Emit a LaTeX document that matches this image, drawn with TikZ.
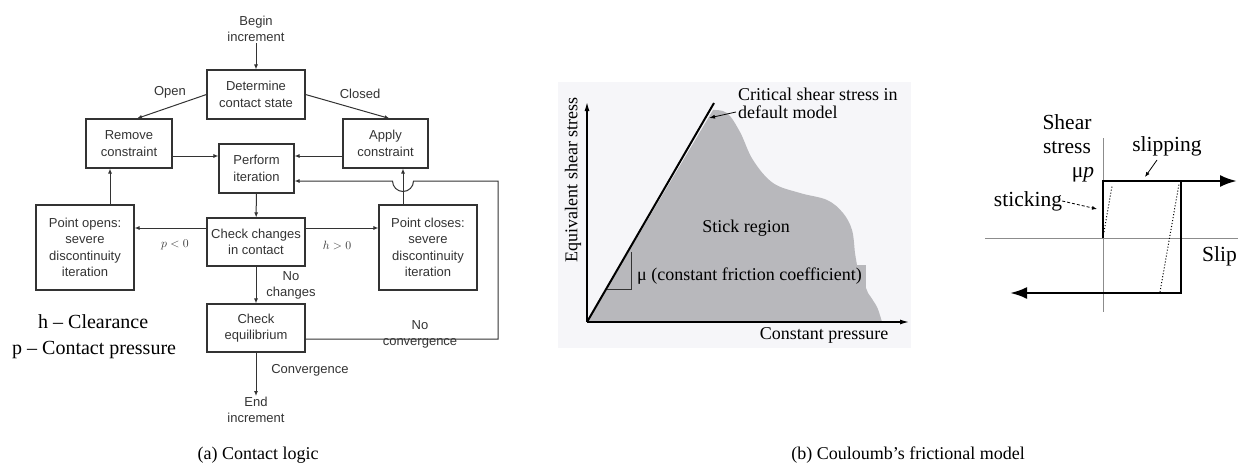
\documentclass[tikz,border=0pt]{standalone}
\usepackage{fontspec}
\setmainfont{Liberation Serif}
\newfontfamily\flowfont{Liberation Sans}
\usetikzlibrary{positioning, arrows.meta, calc}
\usepackage{xcolor}
\definecolor{flowline}{HTML}{333333}
\definecolor{stickgray}{HTML}{B8B8BC}
\definecolor{plotbg}{HTML}{F6F6F9}
\definecolor{axisgray}{HTML}{8C8C8C}

\begin{document}
\begin{tikzpicture}[x=1pt, y=-1pt,
    flowbox/.style={draw=flowline, line width=1.1pt, text=flowline, align=center,
                    inner sep=1pt, font=\flowfont\fontsize{13}{16.5}\selectfont},
    flowtext/.style={text=flowline, align=center, inner sep=1pt,
                     font=\flowfont\fontsize{13}{16}\selectfont},
    flowarr/.style={-{Latex[length=5pt,width=4pt]}, line width=1pt, draw=flowline},
    graphtext/.style={inner sep=0pt, font=\fontsize{18}{18}\selectfont},
    slipttext/.style={inner sep=0pt, align=center, font=\fontsize{21.5}{24}\selectfont}]
    \useasboundingbox (0,0) rectangle (1238,463);

    % (a) contact logic
    \node[flowtext] (begin) at (256,29) {Begin\\increment};
    \node[flowbox, minimum width=98pt, minimum height=49pt] (det) at (256,94.5) {Determine\\contact state};
    \node[flowbox, minimum width=86pt, minimum height=49pt] (remove) at (129,143.5) {Remove\\constraint};
    \node[flowbox, minimum width=85pt, minimum height=49pt] (apply) at (385.5,143.5) {Apply\\constraint};
    \node[flowbox, minimum width=75pt, minimum height=49pt] (perform) at (256.5,168.5) {Perform\\iteration};
    \node[flowbox, minimum width=98pt, minimum height=85pt] (opens) at (85,247.5)
          {Point opens:\\severe\\discontinuity\\iteration};
    \node[flowbox, minimum width=98pt, minimum height=48pt] (checkc) at (256,242) {Check changes\\in contact};
    \node[flowbox, minimum width=98pt, minimum height=85pt] (closes) at (428,247.5)
          {Point closes:\\severe\\discontinuity\\iteration};
    \node[flowbox, minimum width=98pt, minimum height=48pt] (checke) at (256,328) {Check\\equilibrium};
    \node[flowtext] (end) at (256,410) {End\\increment};
    \coordinate (fb) at (498,181);
    \coordinate (hump) at (403,181);

    \draw[flowarr] (begin) -- (det);
    \draw[flowarr] (det.west) -- ([xshift=8pt]remove.north);
    \draw[flowarr] (det.east) -- ([xshift=4pt]apply.north);
    \draw[flowarr] ([yshift=-12.5pt]remove.east) -- ([yshift=-12.5pt]remove.east -| perform.west);
    \draw[flowarr] ([yshift=-12.5pt]apply.west) -- ([yshift=-12.5pt]apply.west -| perform.east);
    \draw[flowarr] (perform) -- (checkc);
    \draw[flowarr] ([yshift=14pt]checkc.west) -- ([yshift=14pt]checkc.west -| opens.east);
    \draw[flowarr] ([yshift=14pt]checkc.east) -- ([yshift=14pt]checkc.east -| closes.west);
    \draw[flowarr] ([xshift=25pt]opens.north) -- ([xshift=25pt]opens.north |- remove.south);
    \draw[flowarr] ([xshift=-25pt]closes.north) -- ([xshift=-25pt]closes.north |- apply.south);
    \draw[flowarr] (checkc) -- (checke);
    \draw[flowarr] (checke) -- (end);
    \draw[flowarr] ([yshift=-11pt]checke.east) -| (fb) -- ([xshift=10.5pt]hump)
          arc[start angle=0, end angle=-180, radius=10.5pt] -- (perform.east |- hump);

    \node[flowtext] (open) at (170,92) {Open};
    \node[flowtext] (closed) at (360,94) {Closed};
    \node[flowtext] (pneg) at (175,245) {$p<0$};
    \node[flowtext] (hpos) at (337,245) {$h>0$};
    \node[flowtext] (nochg) at (291,285) {No\\changes};
    \node[flowtext] (noconv) at (420,334) {No\\convergence};
    \node[flowtext] (conv) at (310,370) {Convergence};
    \node[anchor=west, inner sep=0pt, font=\fontsize{20}{24}\selectfont] (hkey) at (38,322) {h -- Clearance};
    \node[anchor=west, inner sep=0pt, font=\fontsize{20}{24}\selectfont] (pkey) at (12,350) {p -- Contact pressure};
    \node[font=\fontsize{18}{18}\selectfont] (capa) at (258,455) {(a) Contact logic};

    % (b) stick region
    \fill[plotbg] (558,82) rectangle (911,348);
    \fill[stickgray] (587,322) -- (713,110) -- plot[smooth, tension=0.6] coordinates
          {(713,110) (727,113) (740,132) (753,160) (773,183) (800,193) (827,200)
           (843,213) (852,230) (855,253) (857,265)}
          -- (868,293) -- plot[smooth] coordinates {(868,293) (877,307) (882,322)} -- cycle;
    \draw[line width=1.3pt, -{Latex[length=9pt,width=5pt]}] (587,322) -- (909,322);
    \draw[line width=1.3pt, -{Latex[length=9pt,width=5pt]}] (587,322) -- (587,102);
    \draw[line width=2pt] (587,322) -- (714,103);
    \draw[flowline, line width=0.9pt] (607,289) -| (631,252);
    \node[graphtext, fill=stickgray, anchor=west, inner xsep=4pt, inner ysep=3pt] (mulabel) at (633,276)
          {μ (constant friction coefficient)};
    \node[graphtext] (stick) at (746,228) {Stick region};
    \node[graphtext] (cpress) at (824,335) {Constant pressure};
    \node[graphtext, rotate=90] (eqshear) at (573,180) {Equivalent shear stress};
    \node[graphtext, align=left, anchor=north west] (crit) at (738,88)
          {Critical shear stress in\\default model};
    \coordinate (critpt) at (709,118);
    \draw[line width=0.8pt, -{Latex[length=6pt,width=4pt]}] (736,112) -- (critpt);

    % (b) slip curve
    \draw[axisgray, line width=0.9pt] (1103,138) -- (1103,312);
    \draw[axisgray, line width=0.9pt] (985,238) -- (1238,238);
    \draw[line width=2.6pt, -{Latex[length=17pt,width=12pt]}] (1103,238) -- (1103,181) -- (1237,181);
    \draw[line width=2.6pt, -{Latex[length=17pt,width=12pt]}] (1181,181) -- (1181,293) -- (1010,293);
    \draw[dotted, line width=1pt] (1104,232) -- (1112,186);
    \draw[dotted, line width=1pt] (1160,292) -- (1179,184);
    \node[slipttext] (shear) at (1067,134) {Shear\\stress};
    \node[slipttext] (mup) at (1083,175) {μ\textit{p}};
    \node[slipttext] (slipping) at (1167,146) {slipping};
    \node[slipttext] (sticking) at (1028,201) {sticking};
    \node[slipttext, anchor=east] (slip) at (1237,256) {Slip};
    \draw[line width=0.8pt, -{Latex[length=5pt,width=4pt]}] (1157,160) -- (1145,177);
    \draw[line width=0.8pt, densely dashed, -{Latex[length=5pt,width=4pt]}] (sticking.east) -- (1097,209);
    \node[font=\fontsize{18}{18}\selectfont] (capb) at (908,455) {(b) Couloumb’s frictional model};
\end{tikzpicture}
\end{document}
